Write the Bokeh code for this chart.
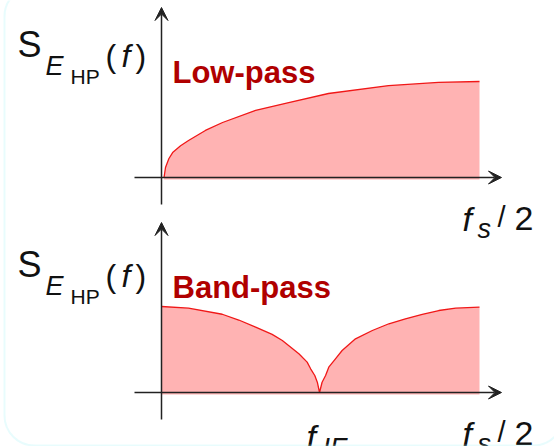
from bokeh.plotting import figure
from bokeh.models import Range1d, Arrow, VeeHead, BoxAnnotation
from bokeh.core.properties import value
from bokeh.embed import file_html
from bokeh.resources import INLINE

# Normalised frequency axis: 0 .. 1 corresponds to 0 .. fs/2
lp_freq = [0.008, 0.0126, 0.023, 0.035, 0.060, 0.085, 0.138, 0.192, 0.296,
           0.40, 0.525, 0.714, 0.871, 1.0]
lp_level = [0.0, 0.104, 0.195, 0.26, 0.33, 0.385, 0.49, 0.573, 0.70,
            0.78, 0.875, 0.958, 0.99, 1.0]

bp_freq = [0.0, 0.085, 0.191, 0.243, 0.296, 0.348, 0.38, 0.432, 0.458, 0.469,
           0.482, 0.49, 0.497, 0.505, 0.516, 0.526, 0.547, 0.568, 0.61, 0.663,
           0.715, 0.767, 0.82, 0.872, 0.925, 1.0]
bp_level = [0.896, 0.878, 0.815, 0.755, 0.680, 0.605, 0.542, 0.403, 0.316, 0.247,
            0.177, 0.107, 0.0, 0.107, 0.177, 0.264, 0.351, 0.4375, 0.559, 0.646,
            0.716, 0.768, 0.815, 0.854, 0.878, 0.889]

f_if = 0.497
panel_titles = ["Low-pass", "Band-pass"]

W, H = 554, 446
X0, XS = 161, 318          # canvas pixel of f = 0, pixels per fs/2
YS = 96                    # pixels per unit of spectral level
TOP_BASE, BOT_BASE = 177, 392


def fx(px):
    return (px - X0) / XS


def fy_top(py):
    return (TOP_BASE - py) / YS


def fy_bot(py):
    return (BOT_BASE - py) / YS


p = figure(width=W, height=H, output_backend="svg", toolbar_location=None,
           x_axis_type=None, y_axis_type=None, min_border=0,
           x_range=Range1d(fx(0), fx(W)),
           y_range=Range1d(fy_top(H), fy_top(0)))
p.extra_y_ranges = {"low": Range1d(fy_bot(H), fy_bot(0))}
p.outline_line_color = None
p.background_fill_color = "white"
p.border_fill_color = "white"

FILL = "#ffb3b3"
EDGE = "#f01818"
AXIS = "#222222"
TITLE = "#b00000"
FONT = "Liberation Sans"

# spectra
p.varea(x=lp_freq, y1=-0.02, y2=lp_level, fill_color=FILL)
p.line(lp_freq, lp_level, line_color=EDGE, line_width=1.3)
p.varea(x=bp_freq, y1=-0.02, y2=bp_level, fill_color=FILL, y_range_name="low")
p.line(bp_freq, bp_level, line_color=EDGE, line_width=1.3, y_range_name="low")

# axes with arrow heads
for rng, fy, base in (("default", fy_top, TOP_BASE), ("low", fy_bot, BOT_BASE)):
    for xs, ys, xe, ye in ((fx(134), 0, fx(501), 0),
                           (0, fy(base + 27), 0, fy(base - 170))):
        p.add_layout(Arrow(x_start=xs, y_start=ys, x_end=xe, y_end=ye,
                           line_color=AXIS, line_width=1.5, y_range_name=rng,
                           end=VeeHead(size=13, fill_color=AXIS, line_color=AXIS)))


def label(x, y, text, size, rng="default", style="normal", color="#111111"):
    p.text(x=[x], y=[y], text=[text], text_font=value(FONT),
           text_font_size=value(f"{size}px"), text_font_style=style,
           text_color=color, text_baseline="alphabetic", text_align="left",
           y_range_name=rng)


for i, (rng, fy, base) in enumerate((("default", fy_top, TOP_BASE),
                                     ("low", fy_bot, BOT_BASE))):
    dy = 0 if i == 0 else 220
    # S_{E_HP}(f)
    label(fx(17), fy(44 + dy), "S", 36, rng)
    label(fx(45), fy(65 + dy), "E", 27, rng, "italic")
    label(fx(70), fy(76 + dy), "HP", 21, rng)
    label(fx(105), fy(55 + dy), "(", 32, rng)
    label(fx(121), fy(55 + dy), "f", 32, rng, "italic")
    label(fx(135), fy(55 + dy), ")", 32, rng)
    # panel title
    label(fx(172), fy(72 + dy - (0 if i == 0 else 5)), panel_titles[i], 31, rng,
          "bold", TITLE)
    # fs/2 mark
    label(fx(462), fy(base + 41), "f", 34, rng, "italic")
    label(fx(477), fy(base + 51), "s", 27, rng, "italic")
    label(fx(497), fy(base + 39), "/", 29, rng)
    label(fx(514), fy(base + 41), "2", 34, rng)

# f_IF mark on the band-pass panel
label(f_if - fx(X0 + 13), fy_bot(BOT_BASE + 44), "f", 34, "low", "italic")
label(f_if + fx(X0 + 3), fy_bot(BOT_BASE + 55), "IF", 27, "low", "italic")

# rounded frame around both panels
p.add_layout(BoxAnnotation(left=fx(4), right=fx(563), top=fy_top(-14), bottom=fy_top(445),
                           fill_alpha=0, line_color="#b4f4f8", line_width=2,
                           border_radius=30))

open("out.html", "w").write(file_html(p, INLINE))
